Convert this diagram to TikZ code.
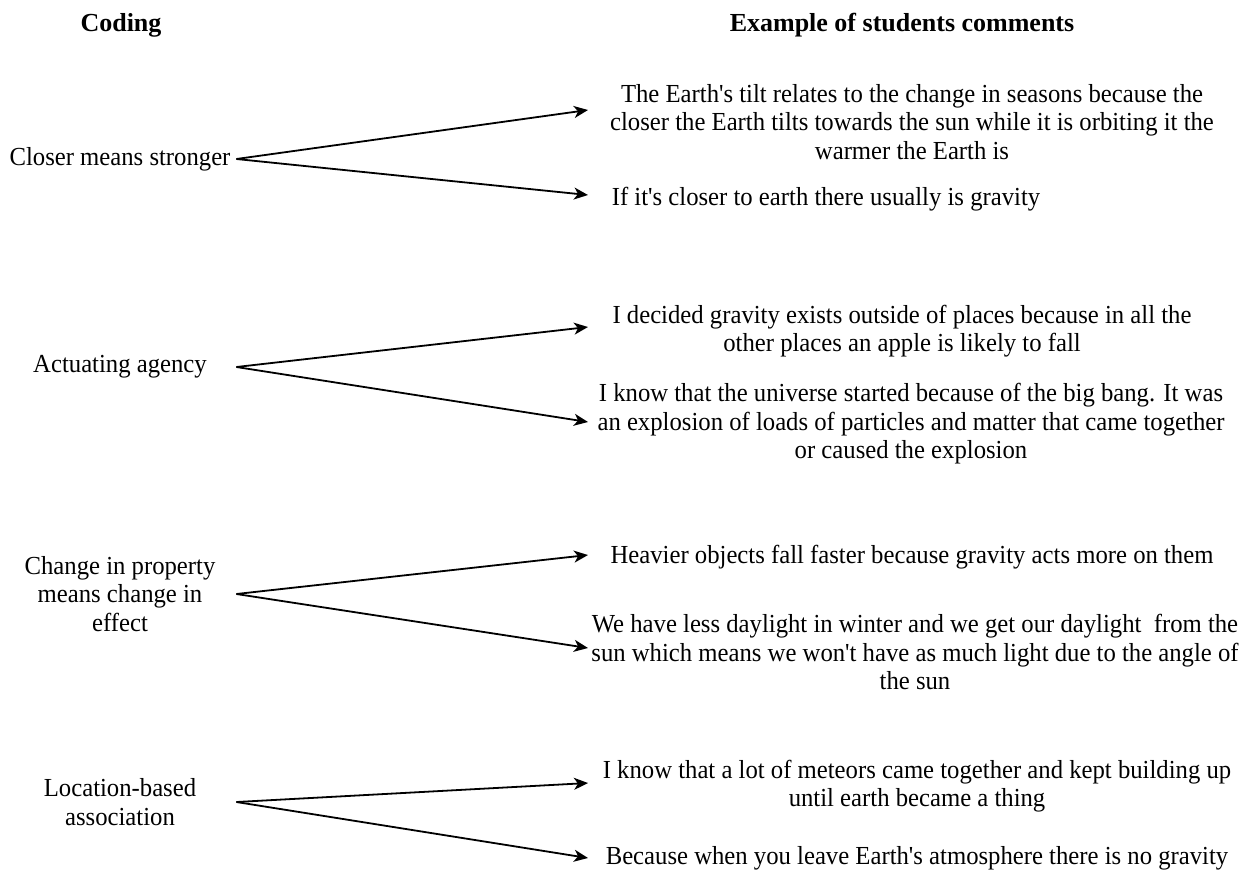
\documentclass[tikz,border=0pt]{standalone}
\usepackage{fontspec}
\setmainfont{Liberation Serif}
\newfontfamily\bodyfont[FakeStretch=0.95]{Liberation Serif}
\usetikzlibrary{arrows.meta}
\begin{document}
\begin{tikzpicture}[x=0.5bp,y=-0.5bp,
  head/.style={font=\bfseries\fontsize{13bp}{15bp}\selectfont, inner sep=0pt},
  code/.style={font=\bodyfont\fontsize{13bp}{14.25bp}\selectfont, align=center, minimum width=116bp, inner sep=0pt},
  comment/.style={font=\bodyfont\fontsize{13bp}{14.25bp}\selectfont, align=center, inner sep=0pt},
  link/.style={-{Stealth[length=7bp,width=6bp,inset=2bp]}, line width=0.9bp}
]
\useasboundingbox (0,0) rectangle (1250,874);
\node[head] (hcode) at (121,25) {Coding};
\node[head] (hcom) at (902,25) {Example of students comments};

\node[code] (c1) at (120,159) {Closer means stronger};
\node[code] (c2) at (120,367) {Actuating agency};
\node[code] (c3) at (120,594) {Change in property\\means change in\\effect};
\node[code] (c4) at (120,802) {Location-based\\association};

\node[comment] (m1) at (912,122) {The Earth's tilt relates to the change in seasons because the\\closer the Earth tilts towards the sun while it is orbiting it the\\warmer the Earth is};
\node[comment] (m2) at (826,199) {If it's closer to earth there usually is gravity};
\node[comment] (m3) at (902,331) {I decided gravity exists outside of places because in all the\\other places an apple is likely to fall};
\node[comment] (m4) at (911,424) {I know that the universe started because of the big bang. It was\\an explosion of loads of particles and matter that came together\\or caused the explosion};
\node[comment] (m5) at (912,557) {Heavier objects fall faster because gravity acts more on them};
\node[comment] (m6) at (915,652) {We have less daylight in winter and we get our daylight\ \ from the\\sun which means we won't have as much light due to the angle of\\the sun};
\node[comment] (m7) at (917,786) {I know that a lot of meteors came together and kept building up\\until earth became a thing};
\node[comment] (m8) at (917,858) {Because when you leave Earth's atmosphere there is no gravity};

\coordinate (t1) at (588,110);
\coordinate (t2) at (588,195);
\coordinate (t3) at (588,327);
\coordinate (t4) at (588,422);
\coordinate (t5) at (588,555);
\coordinate (t6) at (588,648);
\coordinate (t7) at (588,783);
\coordinate (t8) at (588,858);

\draw[link] (c1.east) -- (t1);
\draw[link] (c1.east) -- (t2);
\draw[link] (c2.east) -- (t3);
\draw[link] (c2.east) -- (t4);
\draw[link] (c3.east) -- (t5);
\draw[link] (c3.east) -- (t6);
\draw[link] (c4.east) -- (t7);
\draw[link] (c4.east) -- (t8);
\end{tikzpicture}
\end{document}
